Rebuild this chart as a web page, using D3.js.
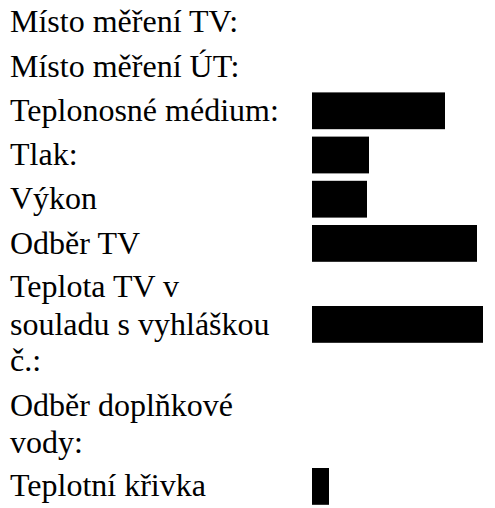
<!DOCTYPE html>
<html><head><meta charset="utf-8"><script src="https://cdn.jsdelivr.net/npm/d3@7"></script></head>
<body style="margin:0;background:#fff">
<script>
// Row labels (each row may wrap onto several lines)
const rowLabels = [
  ["Místo měření TV:"],
  ["Místo měření ÚT:"],
  ["Teplonosné médium:"],
  ["Tlak:"],
  ["Výkon"],
  ["Odběr TV"],
  ["Teplota TV v", "souladu s vyhláškou", "č.:"],
  ["Odběr doplňkové", "vody:"],
  ["Teplotní křivka"]
];
// Length of the redaction bar in each row (0 = no bar)
const redactedLength = [0, 0, 133, 57, 55, 165, 171, 0, 17];

const width = 495, height = 508;
const lineH = 36.8, rowGap = 7.4, topPad = 4;
const labelX = 10, valueX = 312;
const baseFont = 28, targetFont = 32, s = targetFont / baseFont;
const baselineInBox = 0.8375 * baseFont; // Liberation Serif, line-height 1em

const rows = [];
let y0 = topPad;
rowLabels.forEach((lines, i) => {
  rows.push({ lines, top: y0, len: redactedLength[i] });
  y0 += lines.length * lineH + rowGap;
});
const textLines = [];
rows.forEach(r => r.lines.forEach((t, j) => textLines.push({ t, base: r.top + j * lineH + 29 })));

const x = d3.scaleLinear().domain([0, 180]).range([valueX, valueX + 180]);

const wrap = d3.select("body").append("div")
  .style("position", "relative").style("width", width + "px").style("height", height + "px")
  .style("overflow", "hidden");

const svg = wrap.append("svg").attr("width", width).attr("height", height)
  .style("position", "absolute").style("left", "0px").style("top", "0px");

svg.selectAll("rect").data(rows.filter(d => d.len > 0)).join("rect")
  .attr("x", x(0))
  .attr("y", d => d.top + Math.floor(d.lines.length / 2) * lineH)
  .attr("width", d => x(d.len) - x(0))
  .attr("height", lineH)
  .attr("fill", "#000");

const layer = wrap.append("div")
  .style("position", "absolute").style("left", "0px").style("top", "0px")
  .style("width", (width / s) + "px").style("height", (height / s) + "px")
  .style("transform", `scale(${s})`).style("transform-origin", "0 0");

layer.selectAll("div").data(textLines).join("div")
  .style("position", "absolute")
  .style("left", (labelX / s) + "px")
  .style("top", d => (d.base / s - baselineInBox) + "px")
  .style("font-family", '"Liberation Serif"')
  .style("font-size", baseFont + "px")
  .style("line-height", baseFont + "px")
  .style("white-space", "nowrap")
  .style("color", "#000")
  .text(d => d.t);
</script></body></html>
